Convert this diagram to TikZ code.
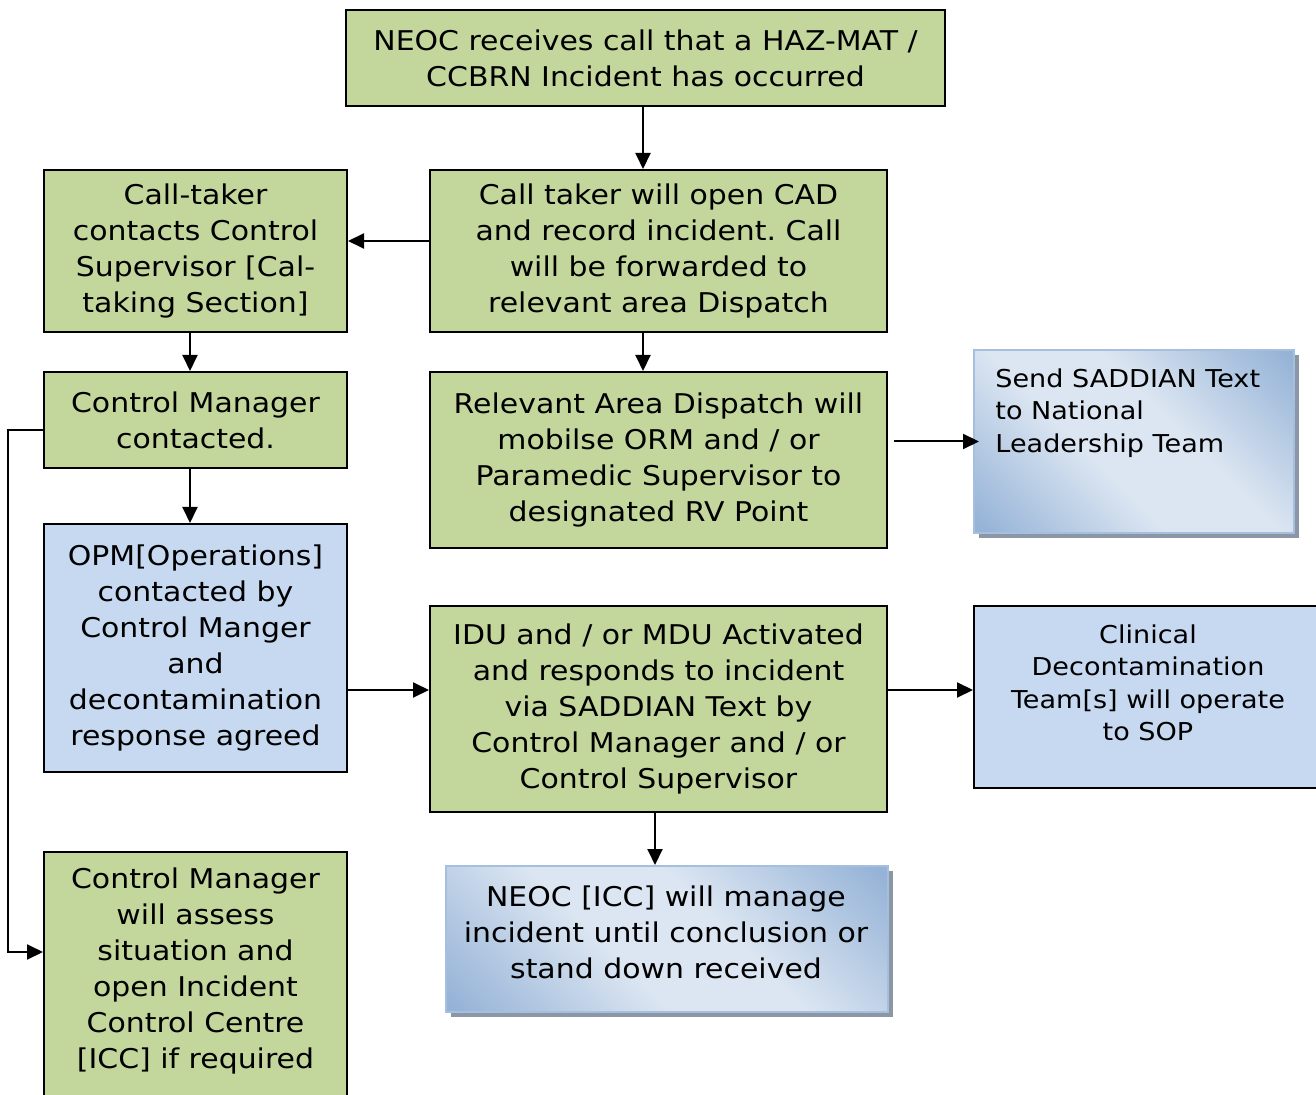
\documentclass[tikz,border=0pt]{standalone}
\usepackage{fontspec}
\setmainfont[FakeStretch=1.1]{DejaVu Sans}
\usetikzlibrary{arrows.meta,shadows}
\definecolor{boxgreen}{HTML}{C3D69B}
\definecolor{boxblue}{HTML}{C6D9F1}
\definecolor{graddark}{HTML}{95B3D7}
\definecolor{gradlight}{HTML}{DCE6F2}
\definecolor{gradedge}{HTML}{A7BFDE}
\definecolor{shadowgrey}{HTML}{8C97A5}
\pgfdeclarehorizontalshading{bluediag}{100bp}{color(0bp)=(graddark); color(16bp)=(graddark); color(42bp)=(gradlight); color(58bp)=(gradlight); color(84bp)=(graddark); color(100bp)=(graddark)}
\frenchspacing

\begin{document}
\begin{tikzpicture}
[x=0.5pt,y=-0.5pt,%
  every node/.style={inner sep=0pt,align=center,font=\fontsize{13.6}{18}\selectfont},%
  greenbox/.style={draw,line width=1pt,fill=boxgreen},%
  bluebox/.style={draw,line width=1pt,fill=boxblue},%
  gradbox/.style={draw=gradedge,line width=1pt,shade,shading=bluediag,shading angle=45,
    drop shadow={shadow xshift=2.5pt,shadow yshift=-2.5pt,fill=shadowgrey,opacity=1}},%
  small/.style={font=\fontsize{12.3}{16.2}\selectfont},%
  arr/.style={-{Triangle[length=8pt,width=7.5pt]},line width=1pt}]
\useasboundingbox (0,0) rectangle (1316,1095);
% middle column
\node[greenbox,minimum width=299.5pt,minimum height=48pt] (neoc) at (645.5,58)
  {NEOC receives call that a HAZ-MAT /\\CCBRN Incident has occurred};
\node[greenbox,minimum width=228.5pt,minimum height=81pt] (calltaker) at (658.5,251)
  {Call taker will open CAD\\and record incident. Call\\will be forwarded to\\relevant area Dispatch};
\node[greenbox,minimum width=228.5pt,minimum height=88pt] (dispatch) at (658.5,460)
  {Relevant Area Dispatch will\\mobilse ORM and / or\\Paramedic Supervisor to\\designated RV Point};
\node[greenbox,minimum width=228.5pt,minimum height=103pt] (idu) at (658.5,709)
  {IDU and / or MDU Activated\\and responds to incident\\via SADDIAN Text by\\Control Manager and / or\\Control Supervisor};
\node[gradbox,minimum width=221pt,minimum height=73pt] (icc) at (667,939) {};
\node (icctxt) at (666,932) {NEOC [ICC] will manage\\incident until conclusion or\\stand down received};
% left column
\node[greenbox,minimum width=151.5pt,minimum height=81pt] (callsup) at (195.5,251)
  {Call-taker\\contacts Control\\Supervisor [Cal-\\taking Section]};
\node[greenbox,minimum width=151.5pt,minimum height=48pt] (ctrlmgr) at (195.5,420)
  {Control Manager\\contacted.};
\node[bluebox,minimum width=151.5pt,minimum height=124pt] (opm) at (195.5,648)
  {OPM[Operations]\\contacted by\\Control Manger\\and\\decontamination\\response agreed};
\node[greenbox,minimum width=151.5pt,minimum height=129pt] (assess) at (195.5,981) {};
\node (assesstxt) at (195.5,971)
  {Control Manager\\will assess\\situation and\\open Incident\\Control Centre\\{[ICC]} if required};
% right column
\node[gradbox,minimum width=160pt,minimum height=91.5pt] (saddian) at (1134,441.5) {};
\node[small,align=left,anchor=west] (saddiantxt) at (995,413)
  {Send SADDIAN Text\\to National\\Leadership Team};
\node[bluebox,minimum width=178pt,minimum height=91pt] (clinical) at (1152,697) {};
\node[small] (clinicaltxt) at (1148,683)
  {Clinical\\Decontamination\\Team[s] will operate\\to SOP};
% connectors
\coordinate (tkcol) at (643,0);
\coordinate (iccol) at (655,0);
\coordinate (rowb) at (0,690);
\coordinate (elbow) at (8,952);
\draw[arr] (neoc.south -| tkcol) -- (calltaker.north -| tkcol);
\draw[arr] (calltaker.south -| tkcol) -- (dispatch.north -| tkcol);
\draw[arr] ([yshift=5pt]calltaker.west) -- ([yshift=5pt]callsup.east);
\draw[arr] ([xshift=-2.75pt]callsup.south) -- ([xshift=-2.75pt]ctrlmgr.north);
\draw[arr] ([xshift=-2.75pt]ctrlmgr.south) -- ([xshift=-2.75pt]opm.north);
\draw[arr] ([xshift=3pt]dispatch.east |- saddian.west) -- ([xshift=3pt]saddian.west);
\draw[arr] (opm.east |- rowb) -- (idu.west |- rowb);
\draw[arr] (idu.east |- rowb) -- (clinical.west |- rowb);
\draw[arr] (idu.south -| iccol) -- (icc.north -| iccol);
\draw[arr] ([yshift=-5pt]ctrlmgr.west) -| (elbow) -- (elbow -| assess.west);
\end{tikzpicture}
\end{document}
